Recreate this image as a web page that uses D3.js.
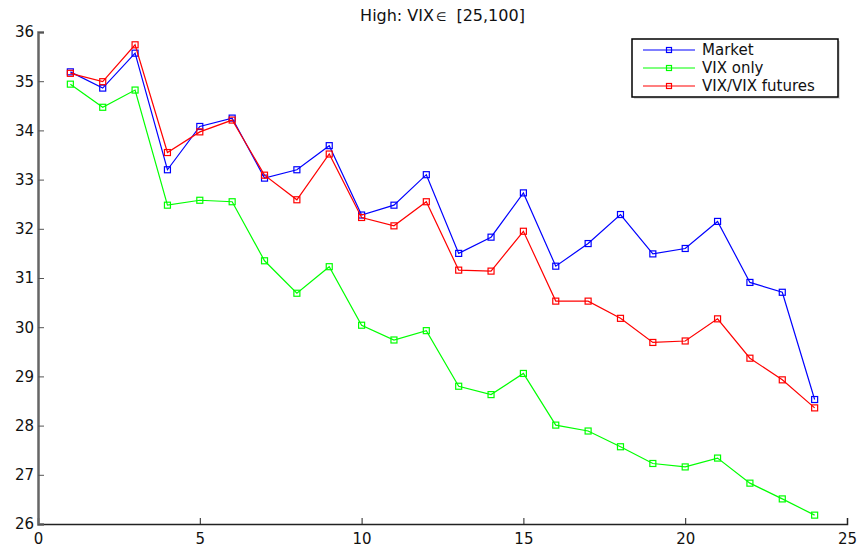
<!DOCTYPE html>
<html>
<head>
<meta charset="utf-8">
<script src="https://cdn.jsdelivr.net/npm/d3@7"></script>
<style>
  html, body { margin: 0; padding: 0; background: #fff; }
  svg { display: block; font-family: "DejaVu Sans", Arial, Helvetica, sans-serif; }
</style>
</head>
<body>
<script>
// Horizon index 1..24
const steps = d3.range(1, 25);

const market = [35.19, 34.86, 35.57, 33.20, 34.08, 34.25, 33.03, 33.20, 33.69, 32.28, 32.48, 33.10,
                31.50, 31.83, 32.73, 31.24, 31.70, 32.29, 31.49, 31.60, 32.15, 30.91, 30.71, 28.53];
const vixOnly = [34.94, 34.47, 34.82, 32.48, 32.58, 32.55, 31.35, 30.69, 31.23, 30.04, 29.74, 29.93,
                 28.80, 28.63, 29.06, 28.01, 27.89, 27.57, 27.23, 27.16, 27.34, 26.83, 26.51, 26.18];
const vixFutures = [35.16, 34.99, 35.74, 33.55, 33.97, 34.21, 33.09, 32.59, 33.52, 32.23, 32.06, 32.55,
                    31.16, 31.14, 31.95, 30.53, 30.53, 30.18, 29.69, 29.72, 30.17, 29.37, 28.93, 28.36];

const seriesNames = ["Market", "VIX only", "VIX/VIX futures"];
const seriesColors = ["#0000ff", "#00ff00", "#ff0000"];
const seriesValues = [market, vixOnly, vixFutures];

const xTicks = [0, 5, 10, 15, 20, 25];
const yTicks = [26, 27, 28, 29, 30, 31, 32, 33, 34, 35, 36];

const W = 862, H = 548;
const plotLeft = 38, plotRight = 847, plotTop = 32, plotBottom = 524;

const svg = d3.select("body").append("svg").attr("width", W).attr("height", H);

const x = d3.scaleLinear().domain([0, 25]).range([plotLeft, plotRight]);
const y = d3.scaleLinear().domain([26, 36]).range([plotBottom, plotTop]);

// Title with a smaller set-membership symbol
const title = svg.append("text")
  .attr("x", (plotLeft + plotRight) / 2).attr("y", 21)
  .attr("text-anchor", "middle")
  .attr("font-size", 16).attr("fill", "#111");
title.append("tspan").text("High: VIX");
title.append("tspan").attr("font-size", 12).attr("dx", 2).text("\u2208");
title.append("tspan").attr("dx", 10).text("[25,100]");

// Axes (ticks point inward)
const xAxis = svg.append("g").attr("transform", `translate(0,${plotBottom})`)
  .call(d3.axisTop(x).tickValues(xTicks).tickSize(6).tickFormat(d3.format("d")));
xAxis.select(".domain").attr("stroke", "#222").attr("stroke-width", 1.5);
xAxis.selectAll(".tick line").attr("stroke", "#222");
xAxis.selectAll(".tick text").attr("y", 9).attr("dy", "0.71em")
  .attr("font-size", 15).attr("fill", "#111");

const yAxis = svg.append("g").attr("transform", `translate(${plotLeft},0)`)
  .call(d3.axisRight(y).tickValues(yTicks).tickSize(6).tickFormat(d3.format("d")));
yAxis.select(".domain").attr("stroke", "#666").attr("stroke-width", 2.5);
yAxis.selectAll(".tick line").attr("stroke", "#555");
yAxis.selectAll(".tick text").attr("x", -4).attr("text-anchor", "end")
  .attr("font-size", 15).attr("fill", "#111");
svg.selectAll(".domain").attr("fill", "none");
svg.selectAll(".tick text").attr("font-family", "DejaVu Sans, Arial, sans-serif");

// Series lines and square markers
const line = d3.line().x((d, i) => x(steps[i])).y(d => y(d));
const ms = 6;
seriesValues.forEach((vals, k) => {
  const g = svg.append("g");
  g.append("path").datum(vals)
    .attr("d", line).attr("fill", "none")
    .attr("stroke", seriesColors[k]).attr("stroke-width", 1.2);
  g.selectAll("rect").data(vals).join("rect")
    .attr("x", (d, i) => x(steps[i]) - ms / 2)
    .attr("y", d => y(d) - ms / 2)
    .attr("width", ms).attr("height", ms)
    .attr("fill", "none").attr("stroke", seriesColors[k]).attr("stroke-width", 1.2);
});

// Legend
const lg = svg.append("g");
const lx0 = 632, ly0 = 39, lw = 206, lh = 58;
lg.append("rect").attr("x", lx0 + 2).attr("y", ly0 + 2).attr("width", lw).attr("height", lh)
  .attr("fill", "#bbb").attr("opacity", 0.5);
lg.append("rect").attr("x", lx0).attr("y", ly0).attr("width", lw).attr("height", lh)
  .attr("fill", "#fff").attr("stroke", "#000").attr("stroke-width", 1.5);
seriesNames.forEach((name, k) => {
  const ry = 50 + k * 18;
  lg.append("line").attr("x1", 643).attr("x2", 695).attr("y1", ry).attr("y2", ry)
    .attr("stroke", seriesColors[k]).attr("stroke-width", 1.2);
  lg.append("rect").attr("x", 669 - 2.5).attr("y", ry - 2.5).attr("width", 5).attr("height", 5)
    .attr("fill", "none").attr("stroke", seriesColors[k]).attr("stroke-width", 1.2);
  lg.append("text").attr("x", 702).attr("y", ry).attr("dy", "0.36em")
    .attr("font-size", 15).attr("fill", "#111").text(name);
});
</script>
</body>
</html>
